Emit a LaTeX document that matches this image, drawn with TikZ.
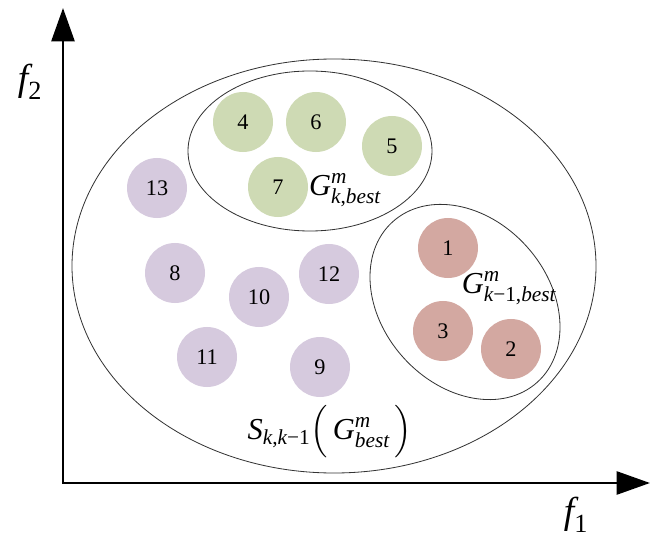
\RequirePackage{fix-cm}
\documentclass[tikz,border=0pt]{standalone}
\usepackage{amsmath}
\usepackage{fontspec}
\setmainfont{Liberation Serif}
\usetikzlibrary{arrows.meta}
\definecolor{solgreen}{RGB}{206,218,180}
\definecolor{solpurple}{RGB}{214,202,222}
\definecolor{solred}{RGB}{211,168,161}
\newcommand{\mi}[1]{\text{\itshape #1}}

\begin{document}
\begin{tikzpicture}[x=0.03cm,y=-0.03cm,
  sol/.style={circle,minimum size=1.8cm,inner sep=0pt,font=\fontsize{19}{21}\selectfont},
  front/.style={draw=black!80,line width=0.7pt},
  axis/.style={line width=2.2pt,{Triangle[length=1cm,width=0.69cm]}-{Triangle[length=1cm,width=0.69cm]}},
  lab/.style={inner sep=0pt,font=\fontsize{26}{30}\selectfont},
  axlab/.style={inner sep=0pt,font=\fontsize{32}{36}\selectfont}]
  \useasboundingbox (0,0) rectangle (668,538);
  % axes
  \coordinate (O) at (63,483);
  \coordinate (ytip) at (63,8);
  \coordinate (xtip) at (650,483);
  \draw[axis] (ytip) -- (O) -- (xtip);
  \node[axlab] (f2) at (30,82) {$\mi{f}_{\text{2}}$};
  \node[axlab] (f1) at (576,515) {$\mi{f}_{\text{1}}$};
  % fronts
  \coordinate (cS) at (334,266);
  \coordinate (cK) at (310,151);
  \coordinate (cP) at (465,302);
  \draw[front] (cS) ellipse [x radius=262, y radius=207];
  \draw[front] (cK) ellipse [x radius=122, y radius=80];
  \draw[front,rotate around={-48:(cP)}] (cP) ellipse [x radius=108, y radius=83];
  % solutions
  \node[sol,fill=solred] (p1) at (448,248) {1};
  \node[sol,fill=solred] (p2) at (511,349) {2};
  \node[sol,fill=solred] (p3) at (443,331) {3};
  \node[sol,fill=solgreen] (p4) at (243,122) {4};
  \node[sol,fill=solgreen] (p5) at (392,146) {5};
  \node[sol,fill=solgreen] (p6) at (316,122) {6};
  \node[sol,fill=solgreen] (p7) at (278,187) {7};
  \node[sol,fill=solpurple] (p8) at (175,273) {8};
  \node[sol,fill=solpurple] (p9) at (320,367) {9};
  \node[sol,fill=solpurple] (p10) at (259,297) {10};
  \node[sol,fill=solpurple] (p11) at (207,357) {11};
  \node[sol,fill=solpurple] (p12) at (329,274) {12};
  \node[sol,fill=solpurple] (p13) at (157,188) {13};
  % labels
  \node[lab] (gk) at (345,190) {$\mi{G}^{\mi{m}}_{\mi{k}\text{,}\mi{best}}$};
  \node[lab] (gk1) at (509,288) {$\mi{G}^{\mi{m}}_{\mi{k}\text{−1,}\mi{best}}$};
  \node[lab] (sk) at (330,432) {$\mi{S}_{\mi{k}\text{,}\mi{k}\text{−1}}\Bigl(\,\mi{G}^{\mi{m}}_{\mi{best}}\,\Bigr)$};
\end{tikzpicture}
\end{document}
